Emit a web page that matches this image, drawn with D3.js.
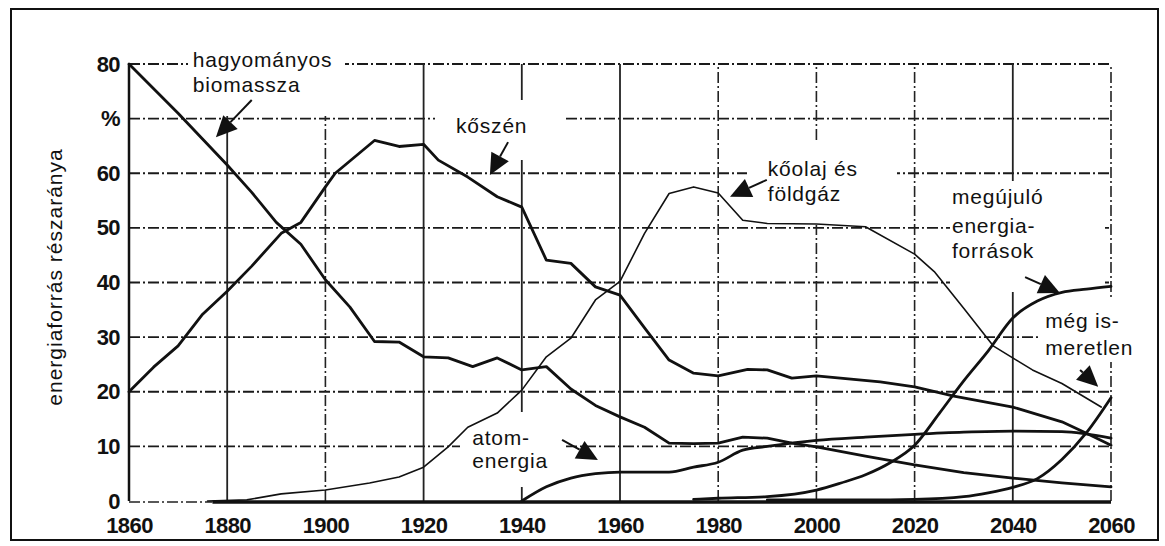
<!DOCTYPE html>
<html>
<head>
<meta charset="utf-8">
<script src="https://cdn.jsdelivr.net/npm/d3@7"></script>
<style>
  body { margin: 0; background: #fff; }
  .lbl { font-family: "Liberation Sans", Arial, sans-serif; font-size: 21px; letter-spacing: 0.8px; fill: #111; }
  .tick text { font-family: "Liberation Sans Narrow", "Arial Narrow", "Liberation Sans", sans-serif; font-weight: bold; font-size: 22px; letter-spacing: -0.6px; fill: #111; }
</style>
</head>
<body>
<div class="chart"></div>
<script>
/*Data*/
const biomassYears = [1860,1870,1880,1885,1890,1895,1900,1905,1910,1915,1920,1925,1930,1935,1940,1945,1950,1955,1960,1965,1970,1975,1980,1985,1990,1995,2000,2010,2020,2030,2040,2050,2060];
const biomassVals  = [80,71,61.5,56.5,51,47,40.5,35.5,29.2,29.1,26.4,26.2,24.6,26.2,24,24.6,20.5,17.5,15.4,13.5,10.6,10.5,10.6,11.7,11.5,10.6,9.9,8.2,6.6,5.2,4.2,3.3,2.6];

const coalYears = [1860,1865,1870,1875,1880,1885,1891,1895,1900,1902,1910,1915,1920,1923,1929,1935,1940,1945,1950,1955,1960,1965,1970,1975,1980,1986,1990,1995,2000,2013,2020,2028,2040,2050,2055,2060];
const coalVals  = [20,24.5,28.4,34.2,38.4,43,49,51,57.5,60,66,64.9,65.3,62.4,59.3,55.7,53.8,44.1,43.5,39.2,37.7,31.7,25.8,23.4,22.9,24.1,24,22.5,22.9,21.8,20.9,19.2,17.2,14.5,12.4,10.2];

const oilYears = [1876,1884,1891,1900,1909,1915,1920,1925,1929,1935,1940,1945,1950,1955,1960,1965,1970,1975,1980,1985,1990,2000,2010,2020,2024,2030,2036,2044,2050,2058];
const oilVals  = [0,0.2,1.3,2,3.3,4.4,6.2,9.9,13.5,16.1,20.3,26.4,29.8,36.8,40.2,49,56.3,57.5,56.4,51.4,50.8,50.7,50.2,45.2,42,35.3,28.4,24,21.5,17.2];

const atomYears = [1940,1945,1950,1955,1960,1970,1975,1980,1985,1990,2000,2010,2020,2030,2040,2050,2060];
const atomVals  = [0,2.6,4.2,5,5.3,5.3,6.2,7.1,9.3,10,11.1,11.7,12.2,12.6,12.8,12.7,11.5];

const renewYears = [1975,1980,1990,2000,2005,2010,2015,2020,2025,2030,2035,2040,2045,2050,2055,2060];
const renewVals  = [0.3,0.5,0.8,2,3.3,4.8,7,10.2,16,22,27.5,33.5,36.6,38.2,38.8,39.3];

const unknownYears = [1990,2000,2010,2020,2030,2035,2040,2045,2050,2055,2060];
const unknownVals  = [0.2,0.2,0.2,0.3,0.8,1.5,2.5,4.1,7.6,12.5,18.9];

const xTicks = [1860,1880,1900,1920,1940,1960,1980,2000,2020,2040,2060];
const yTicks = [0,10,20,30,40,50,60,70,80];
const yTickLabels = ["0","10","20","30","40","50","60","%","80"];
const yTitle = "energiaforrás részaránya";

/*Annotations (year, value)*/
const labels = [
  ["hagyományos",1873,79.45],["biomassza",1873,74.9],
  ["kőszén",1926.6,67.4],
  ["kőolaj és",1990.1,59.5],["földgáz",1990.1,54.9],
  ["megújuló",2027.6,54.4],["energia-",2027.6,49.1],["források",2027.6,44.5],
  ["még is-",2046.6,31.7],["meretlen",2046.6,26.7],
  ["atom-",1929.9,10.25],["energia",1929.9,6.0]
];
const arrows = [
  [1885.0,73.4,1877.7,66.6],
  [1937.2,65.7,1933.5,59.7],
  [1989.9,58.8,1982.4,55.7],
  [2042.5,41.0,2049.6,38.1],
  [2053.7,24.0,2057.4,20.9],
  [1948.2,11.2,1955.5,7.5]
];

/*Chart area*/
const W = 1165, H = 546;
const svg = d3.select(".chart").append("svg")
  .attr("width", W)
  .attr("height", H);

const x = d3.scaleLinear().domain([1860,2060]).range([129,1111]);
const y = d3.scaleLinear().domain([0,80]).range([501,64]);

/*frame*/
svg.append("rect")
  .attr("x",11).attr("y",9).attr("width",1147).attr("height",531)
  .attr("fill","none").attr("stroke","#111").attr("stroke-width",2);

/*grid*/
const dash = "11,3,2,3";
svg.append("g").selectAll("line")
  .data(yTicks.filter(d=>d>0))
  .enter().append("line")
  .attr("x1",x(1860)).attr("x2",x(2060))
  .attr("y1",d=>y(d)).attr("y2",d=>y(d))
  .attr("stroke","#1a1a1a").attr("stroke-width",1.8)
  .attr("stroke-dasharray",dash);

const solidV = [1880,1920,1940,1960,2040];
svg.append("g").selectAll("line")
  .data(xTicks.filter(d=>d>1860))
  .enter().append("line")
  .attr("x1",d=>x(d)).attr("x2",d=>x(d))
  .attr("y1",y(0)).attr("y2",y(80))
  .attr("stroke","#222").attr("stroke-width",d=>solidV.includes(d)?1.8:1.6)
  .attr("stroke-dasharray",d=>solidV.includes(d)?null:dash);

/*white boxes behind labels (break grid)*/
const boxes = [[188,52,157,64],[435,100,130,60],[747,140,150,85],[950,181,155,111],[1040,300,100,62],[460,412,103,75]];
svg.append("g").selectAll("rect")
  .data(boxes)
  .enter().append("rect")
  .attr("x",d=>d[0]).attr("y",d=>d[1]).attr("width",d=>d[2]).attr("height",d=>d[3])
  .attr("fill","#fff");

/*axes lines*/
svg.append("line")
  .attr("x1",x(1860)).attr("x2",x(1860)).attr("y1",y(0)).attr("y2",y(80))
  .attr("stroke","#111").attr("stroke-width",2.5);
svg.append("line")
  .attr("x1",x(1860)).attr("x2",x(1877)).attr("y1",y(0)+1).attr("y2",y(0)+1)
  .attr("stroke","#222").attr("stroke-width",1.6).attr("stroke-dasharray",dash);
svg.append("line")
  .attr("x1",x(1877)).attr("x2",x(2060)).attr("y1",y(0)+1).attr("y2",y(0)+1)
  .attr("stroke","#111").attr("stroke-width",3.5);

/*lines*/
const series = [
  {years:biomassYears, vals:biomassVals, w:2.8, curve:d3.curveLinear},
  {years:coalYears, vals:coalVals, w:2.8, curve:d3.curveLinear},
  {years:oilYears, vals:oilVals, w:1.6, curve:d3.curveLinear},
  {years:atomYears, vals:atomVals, w:2.8, curve:d3.curveMonotoneX},
  {years:renewYears, vals:renewVals, w:2.8, curve:d3.curveMonotoneX},
  {years:unknownYears, vals:unknownVals, w:2.8, curve:d3.curveMonotoneX}
];

series.forEach(s=>{
  const pts = s.years.map((yr,i)=>[yr,s.vals[i]]);
  const line = d3.line().x(d=>x(d[0])).y(d=>y(d[1])).curve(s.curve);
  svg.append("path")
    .datum(pts)
    .attr("d",line)
    .attr("fill","none")
    .attr("stroke","#111")
    .attr("stroke-width",s.w)
    .attr("stroke-linejoin","round")
    .attr("stroke-linecap","round");
});

/*labels*/
svg.append("g").selectAll("text")
  .data(labels)
  .enter().append("text")
  .attr("class","lbl")
  .attr("x",d=>x(d[1])).attr("y",d=>y(d[2]))
  .text(d=>d[0]);

/*arrows*/
const headLen = 21, headW = 10;
arrows.forEach(a=>{
  const x1=x(a[0]), y1=y(a[1]), x2=x(a[2]), y2=y(a[3]);
  const ang = Math.atan2(y2-y1,x2-x1);
  const bx = x2-headLen*Math.cos(ang), by = y2-headLen*Math.sin(ang);
  svg.append("line")
    .attr("x1",x1).attr("y1",y1).attr("x2",bx).attr("y2",by)
    .attr("stroke","#111").attr("stroke-width",2);
  const px = -Math.sin(ang)*headW, py = Math.cos(ang)*headW;
  svg.append("path")
    .attr("d",`M${x2},${y2}L${bx+px},${by+py}L${bx-px},${by-py}Z`)
    .attr("fill","#111");
});

/*tick labels*/
const yAxis = d3.axisLeft(y).tickValues(yTicks)
  .tickFormat((d,i)=>yTickLabels[i]).tickSize(0).tickPadding(9);
svg.append("g")
  .attr("transform",`translate(${x(1860)},0)`)
  .call(yAxis)
  .call(g=>g.select(".domain").remove());

const xAxis = d3.axisBottom(x).tickValues(xTicks)
  .tickFormat(d3.format("d")).tickSize(0).tickPadding(16);
svg.append("g")
  .attr("transform",`translate(0,${y(0)})`)
  .call(xAxis)
  .call(g=>g.select(".domain").remove());

/*y title*/
svg.append("text")
  .attr("class","lbl")
  .attr("transform","translate(62,277) rotate(-90)")
  .attr("text-anchor","middle")
  .style("letter-spacing","1px")
  .text(yTitle);
</script>
</body>
</html>
